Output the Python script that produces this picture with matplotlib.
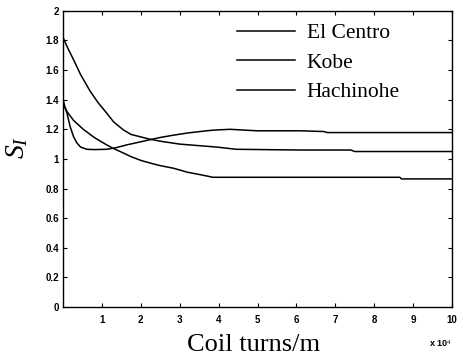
#!/usr/bin/env python3
import matplotlib as mpl
mpl.use("Agg")
import matplotlib.pyplot as plt

mpl.rcParams.update({
    "font.family": "serif",
    "font.serif": ["Liberation Serif", "DejaVu Serif"],
    "mathtext.fontset": "custom",
    "mathtext.rm": "Liberation Serif",
    "mathtext.it": "Liberation Serif:italic",
    "axes.linewidth": 1.0,
    "xtick.direction": "in",
    "ytick.direction": "in",
})

# Data (x in units of 1e4 coil turns/m)
elcentro_x = [0, 0.1, 0.27, 0.45, 0.69, 0.9, 1.12, 1.3, 1.55, 1.75, 1.98, 2.2, 2.49,
              3.0, 3.95, 4.46, 6.1, 7.4, 7.5, 10]
elcentro_y = [1.82, 1.76, 1.67, 1.57, 1.46, 1.38, 1.31, 1.25, 1.196, 1.165, 1.15, 1.135, 1.12,
              1.10, 1.08, 1.065, 1.06, 1.06, 1.05, 1.05]

kobe_x = [0, 0.05, 0.1, 0.18, 0.27, 0.35, 0.45, 0.61, 0.8, 1.12, 1.35, 1.64, 1.9, 2.24,
          2.5, 2.83, 3.2, 3.69, 3.9, 4.29, 4.98, 6.09, 6.7, 6.8, 10]
kobe_y = [1.40, 1.35, 1.31, 1.22, 1.15, 1.11, 1.08, 1.065, 1.063, 1.065, 1.075, 1.095, 1.11, 1.13,
          1.145, 1.16, 1.175, 1.19, 1.195, 1.20, 1.19, 1.19, 1.185, 1.178, 1.178]

hachinohe_x = [0, 0.1, 0.27, 0.52, 0.8, 1.12, 1.3, 1.55, 1.75, 2.0, 2.2, 2.49, 2.84,
               3.2, 3.5, 3.69, 3.85, 8.66, 8.7, 10]
hachinohe_y = [1.37, 1.32, 1.26, 1.20, 1.145, 1.095, 1.07, 1.04, 1.015, 0.99, 0.975, 0.955, 0.937,
               0.91, 0.895, 0.885, 0.876, 0.876, 0.865, 0.865]

labels = ["El Centro", "Kobe", "Hachinohe"]
xticks = list(range(1, 11))
yticks = [0, 0.2, 0.4, 0.6, 0.8, 1, 1.2, 1.4, 1.6, 1.8, 2]
ytick_labels = ["0", "0.2", "0.4", "0.6", "0.8", "1", "1.2", "1.4", "1.6", "1.8", "2"]

TICK_FONT = dict(family="Liberation Sans", size=7, weight="bold")


def main():
    fig = plt.figure(figsize=(4.57, 3.62), dpi=100)
    ax = fig.add_axes([0.138, 0.152, 0.851, 0.818])

    series = [(elcentro_x, elcentro_y), (kobe_x, kobe_y), (hachinohe_x, hachinohe_y)]
    for (xs, ys), lab in zip(series, labels):
        ax.plot(xs, ys, color="black", lw=1.1, label=lab)

    ax.set_xlim(0, 10)
    ax.set_ylim(0, 2)
    ax.set_xticks(xticks)
    ax.set_xticklabels([str(t) for t in xticks], fontdict=TICK_FONT)
    ax.set_yticks(yticks)
    ax.set_yticklabels(ytick_labels, fontdict=TICK_FONT)
    ax.tick_params(top=True, right=True, length=3, width=0.8)
    ax.tick_params(axis="x", pad=6)
    ax.tick_params(axis="y", pad=3)

    ax.text(1.0, -0.125, r"x 10$^{4}$", transform=ax.transAxes,
            ha="right", va="center", family="Liberation Sans",
            fontsize=6.5, weight="bold")

    ax.set_xlabel("Coil turns/m", fontsize=19)
    ax.xaxis.set_label_coords(0.49, -0.092)
    ax.set_ylabel(r"$S_I$", fontsize=20, rotation=90)
    ax.yaxis.set_label_coords(-0.085, 0.54)

    ax.legend(loc="upper left", bbox_to_anchor=(0.447, 0.958), frameon=False,
              fontsize=15.5, handlelength=2.7, handletextpad=0.55,
              labelspacing=0.44, borderpad=0, borderaxespad=0)

    fig.savefig("out.png", dpi=100)


if __name__ == "__main__":
    main()
